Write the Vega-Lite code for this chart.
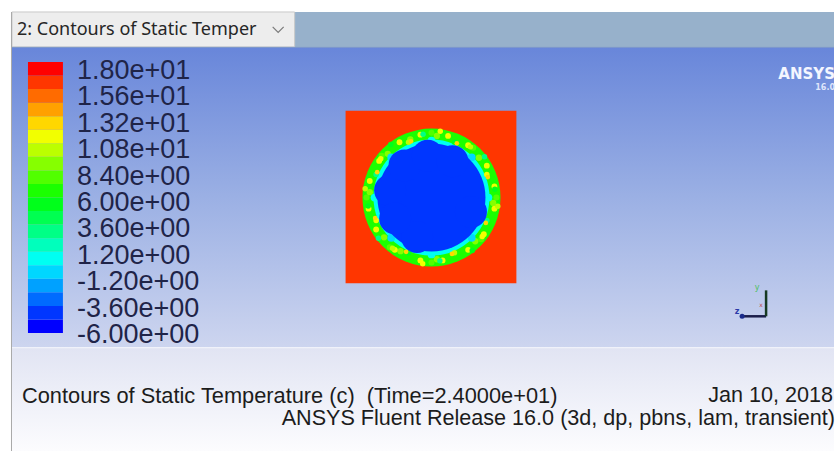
{
  "$schema": "https://vega.github.io/schema/vega-lite/v6.json",
  "width": 835,
  "height": 452,
  "autosize": {"type": "fit", "contains": "padding"},
  "padding": 0,
  "background": "#ffffff",
  "config": {"view": {"stroke": null}},
  "datasets": {
    "panels": [
      {"part": "strip", "x": 12, "x2": 835, "y": 12, "y2": 47},
      {"part": "tab", "x": 12, "x2": 295, "y": 12, "y2": 47},
      {"part": "view", "x": 12, "x2": 835, "y": 47, "y2": 348},
      {"part": "footer", "x": 12, "x2": 835, "y": 348, "y2": 452}
    ],
    "frame": [{"x": 11.5, "y": 12, "y2": 452}],
    "seps": [{"x": 12, "x2": 835, "y": 47.5}, {"x": 12, "x2": 835, "y": 348.5}],
    "chev": [{"x": 273, "y": 27}, {"x": 278.5, "y": 32.5}, {"x": 284, "y": 27}],
    "domainbox": [{"x": 346, "x2": 517, "y": 111, "y2": 284, "T": 16.2}],
    "disc": [{"x": 432, "y": 198, "T": 6.6}],
    "rim": [{"x": 432, "y": 198, "T": 0.6}],
    "core": [{"x": 432, "y": 198, "T": -4.2}],
    "spots": [
      {"g": "yel", "x": 495.0, "y": 209.1, "T": 11.4},
      {"g": "yel", "x": 484.4, "y": 234.7, "T": 11.4},
      {"g": "yel", "x": 468.7, "y": 250.4, "T": 11.4},
      {"g": "yel", "x": 443.1, "y": 261.0, "T": 11.4},
      {"g": "yel", "x": 420.9, "y": 261.0, "T": 11.4},
      {"g": "yel", "x": 395.3, "y": 250.4, "T": 11.4},
      {"g": "yel", "x": 376.6, "y": 230.0, "T": 11.4},
      {"g": "yel", "x": 369.0, "y": 209.1, "T": 11.4},
      {"g": "yel", "x": 370.2, "y": 181.4, "T": 11.4},
      {"g": "yel", "x": 379.6, "y": 161.3, "T": 11.4},
      {"g": "yel", "x": 400.0, "y": 142.6, "T": 11.4},
      {"g": "yel", "x": 420.9, "y": 135.0, "T": 11.4},
      {"g": "yel", "x": 448.6, "y": 136.2, "T": 11.4},
      {"g": "yel", "x": 468.7, "y": 145.6, "T": 11.4},
      {"g": "yel", "x": 487.4, "y": 166.0, "T": 11.4},
      {"g": "yel", "x": 495.0, "y": 186.9, "T": 11.4},
      {"g": "org", "x": 486.4, "y": 223.4, "T": 12.6},
      {"g": "org", "x": 452.5, "y": 254.4, "T": 12.6},
      {"g": "org", "x": 406.6, "y": 252.4, "T": 12.6},
      {"g": "org", "x": 375.6, "y": 218.5, "T": 12.6},
      {"g": "org", "x": 377.6, "y": 172.6, "T": 12.6},
      {"g": "org", "x": 411.5, "y": 141.6, "T": 12.6},
      {"g": "org", "x": 457.4, "y": 143.6, "T": 12.6},
      {"g": "org", "x": 488.4, "y": 177.5, "T": 12.6},
      {"g": "yg", "x": 493.8, "y": 203.4, "T": 9.0},
      {"g": "yg", "x": 475.8, "y": 241.8, "T": 9.0},
      {"g": "yg", "x": 437.4, "y": 259.8, "T": 9.0},
      {"g": "yg", "x": 401.0, "y": 251.7, "T": 9.0},
      {"g": "yg", "x": 384.5, "y": 237.9, "T": 9.0},
      {"g": "yg", "x": 370.2, "y": 192.6, "T": 9.0},
      {"g": "yg", "x": 388.2, "y": 154.2, "T": 9.0},
      {"g": "yg", "x": 410.8, "y": 139.7, "T": 9.0},
      {"g": "yg", "x": 437.4, "y": 136.2, "T": 9.0},
      {"g": "yg", "x": 479.5, "y": 158.1, "T": 9.0},
      {"g": "gy", "x": 497.0, "y": 198.0, "T": 7.8},
      {"g": "gy", "x": 481.8, "y": 239.8, "T": 7.8},
      {"g": "gy", "x": 432.0, "y": 263.0, "T": 7.8},
      {"g": "gy", "x": 390.2, "y": 247.8, "T": 7.8},
      {"g": "gy", "x": 367.0, "y": 198.0, "T": 7.8},
      {"g": "gy", "x": 382.2, "y": 156.2, "T": 7.8},
      {"g": "gy", "x": 432.0, "y": 133.0, "T": 7.8},
      {"g": "gy", "x": 473.8, "y": 148.2, "T": 7.8},
      {"g": "mix", "x": 498.4, "y": 206.8, "T": 10.2},
      {"g": "mix", "x": 487.4, "y": 221.0, "T": 3.0},
      {"g": "mix", "x": 482.8, "y": 237.0, "T": 11.4},
      {"g": "mix", "x": 472.8, "y": 251.1, "T": 5.4},
      {"g": "mix", "x": 455.0, "y": 253.4, "T": 10.2},
      {"g": "mix", "x": 440.4, "y": 261.4, "T": 3.0},
      {"g": "mix", "x": 423.2, "y": 264.4, "T": 11.4},
      {"g": "mix", "x": 409.0, "y": 253.4, "T": 5.4},
      {"g": "mix", "x": 393.0, "y": 248.8, "T": 10.2},
      {"g": "mix", "x": 378.9, "y": 238.8, "T": 3.0},
      {"g": "mix", "x": 376.6, "y": 221.0, "T": 11.4},
      {"g": "mix", "x": 368.6, "y": 206.4, "T": 5.4},
      {"g": "mix", "x": 365.6, "y": 189.2, "T": 10.2},
      {"g": "mix", "x": 376.6, "y": 175.0, "T": 3.0},
      {"g": "mix", "x": 381.2, "y": 159.0, "T": 11.4},
      {"g": "mix", "x": 391.2, "y": 144.9, "T": 5.4},
      {"g": "mix", "x": 409.0, "y": 142.6, "T": 10.2},
      {"g": "mix", "x": 423.6, "y": 134.6, "T": 3.0},
      {"g": "mix", "x": 440.8, "y": 131.6, "T": 11.4},
      {"g": "mix", "x": 455.0, "y": 142.6, "T": 5.4},
      {"g": "mix", "x": 471.0, "y": 147.2, "T": 10.2},
      {"g": "mix", "x": 485.1, "y": 157.2, "T": 3.0},
      {"g": "mix", "x": 487.4, "y": 175.0, "T": 11.4},
      {"g": "mix", "x": 495.4, "y": 189.6, "T": 5.4},
      {"g": "cy", "x": 489.0, "y": 198.0, "T": 0.6},
      {"g": "cy", "x": 472.3, "y": 238.3, "T": -0.6},
      {"g": "cy", "x": 432.0, "y": 255.0, "T": 0.6},
      {"g": "cy", "x": 391.7, "y": 238.3, "T": -0.6},
      {"g": "cy", "x": 375.0, "y": 198.0, "T": 0.6},
      {"g": "cy", "x": 391.7, "y": 157.7, "T": -0.6},
      {"g": "cy", "x": 432.0, "y": 141.0, "T": 0.6},
      {"g": "cy", "x": 472.3, "y": 157.7, "T": -0.6}
    ],
    "bulges": [
      {"x": 390.6, "y": 190.7, "T": -4.2},
      {"x": 405.0, "y": 165.8, "T": -4.2},
      {"x": 428.3, "y": 156.2, "T": -4.2},
      {"x": 453.0, "y": 161.6, "T": -4.2},
      {"x": 471.5, "y": 212.4, "T": -4.2},
      {"x": 417.6, "y": 237.5, "T": -4.2},
      {"x": 395.6, "y": 219.0, "T": -4.2}
    ],
    "triad": [
      {"ax": "z", "x": 743, "y": 317, "x2": 767, "y2": 317},
      {"ax": "y", "x": 767, "y": 317, "x2": 767, "y2": 291}
    ],
    "triadlabels": [
      {"ax": "z", "x": 738, "y": 313, "t": "z"},
      {"ax": "y", "x": 758, "y": 289, "t": "y"},
      {"ax": "x", "x": 762, "y": 306, "t": "x"}
    ],
    "tabtext": [{"x": 17, "y": 30, "t": "2: Contours of Static Temper"}],
    "footleft": [{"x": 22, "y": 397, "t": "Contours of Static Temperature (c) \u00a0(Time=2.4000e+01)"}],
    "footright": [
      {"x": 834, "y": 397, "t": "Jan 10, 2018"},
      {"x": 836, "y": 420, "t": "ANSYS Fluent Release 16.0 (3d, dp, pbns, lam, transient)"}
    ],
    "logo": [{"x": 836, "y": 74, "t": "ANSYS"}],
    "logover": [{"x": 836, "y": 88, "t": "16.0"}],
    "bands": [
      {"lo": -6, "hi": -4.8, "T": -5.4},
      {"lo": -4.8, "hi": -3.6, "T": -4.2},
      {"lo": -3.6, "hi": -2.4, "T": -3.0},
      {"lo": -2.4, "hi": -1.2, "T": -1.8},
      {"lo": -1.2, "hi": 0, "T": -0.6},
      {"lo": 0, "hi": 1.2, "T": 0.6},
      {"lo": 1.2, "hi": 2.4, "T": 1.8},
      {"lo": 2.4, "hi": 3.6, "T": 3.0},
      {"lo": 3.6, "hi": 4.8, "T": 4.2},
      {"lo": 4.8, "hi": 6, "T": 5.4},
      {"lo": 6, "hi": 7.2, "T": 6.6},
      {"lo": 7.2, "hi": 8.4, "T": 7.8},
      {"lo": 8.4, "hi": 9.6, "T": 9.0},
      {"lo": 9.6, "hi": 10.8, "T": 10.2},
      {"lo": 10.8, "hi": 12, "T": 11.4},
      {"lo": 12, "hi": 13.2, "T": 12.6},
      {"lo": 13.2, "hi": 14.4, "T": 13.8},
      {"lo": 14.4, "hi": 15.6, "T": 15.0},
      {"lo": 15.6, "hi": 16.8, "T": 16.2},
      {"lo": 16.8, "hi": 18, "T": 17.4}
    ],
    "ticks": [
      {"v": 18, "label": "1.80e+01"},
      {"v": 15.6, "label": "1.56e+01"},
      {"v": 13.2, "label": "1.32e+01"},
      {"v": 10.8, "label": "1.08e+01"},
      {"v": 8.4, "label": "8.40e+00"},
      {"v": 6, "label": "6.00e+00"},
      {"v": 3.6, "label": "3.60e+00"},
      {"v": 1.2, "label": "1.20e+00"},
      {"v": -1.2, "label": "-1.20e+00"},
      {"v": -3.6, "label": "-3.60e+00"},
      {"v": -6, "label": "-6.00e+00"}
    ]
  },
  "layer": [
    {
      "encoding": {
        "x": {"field": "x", "type": "quantitative", "scale": {"domain": [0, 835], "nice": false, "zero": false}, "axis": null},
        "y": {"field": "y", "type": "quantitative", "scale": {"domain": [0, 452], "nice": false, "zero": false, "reverse": true}, "axis": null}
      },
      "layer": [
        {
          "data": {"name": "panels"},
          "transform": [{"filter": "datum.part == 'strip'"}],
          "mark": {"type": "rect", "fill": "#97b1cb"},
          "encoding": {"x2": {"field": "x2"}, "y2": {"field": "y2"}}
        },
        {
          "data": {"name": "panels"},
          "transform": [{"filter": "datum.part == 'tab'"}],
          "mark": {"type": "rect", "fill": "#ededed", "stroke": "#c9c9c9", "strokeWidth": 1},
          "encoding": {"x2": {"field": "x2"}, "y2": {"field": "y2"}}
        },
        {
          "data": {"name": "panels"},
          "transform": [{"filter": "datum.part == 'view'"}],
          "mark": {"type": "rect", "fill": {"gradient": "linear", "x1": 0, "y1": 0, "x2": 0, "y2": 1, "stops": [{"offset": 0, "color": "#6886da"}, {"offset": 0.5, "color": "#9bb0e4"}, {"offset": 1, "color": "#cdd5ef"}]}},
          "encoding": {"x2": {"field": "x2"}, "y2": {"field": "y2"}}
        },
        {
          "data": {"name": "panels"},
          "transform": [{"filter": "datum.part == 'footer'"}],
          "mark": {"type": "rect", "fill": {"gradient": "linear", "x1": 0, "y1": 0, "x2": 0, "y2": 1, "stops": [{"offset": 0, "color": "#e1e4f3"}, {"offset": 1, "color": "#fcfcfe"}]}},
          "encoding": {"x2": {"field": "x2"}, "y2": {"field": "y2"}}
        },
        {
          "data": {"name": "seps"},
          "mark": {"type": "rule", "color": "#f4f5fb", "strokeWidth": 1},
          "transform": [{"filter": "datum.y > 100"}],
          "encoding": {"x2": {"field": "x2"}}
        },
        {
          "data": {"name": "seps"},
          "mark": {"type": "rule", "color": "#7f9acb", "strokeWidth": 1},
          "transform": [{"filter": "datum.y < 100"}],
          "encoding": {"x2": {"field": "x2"}}
        },
        {
          "data": {"name": "frame"},
          "mark": {"type": "rule", "color": "#a9a9a9", "strokeWidth": 1},
          "encoding": {"y2": {"field": "y2"}}
        },
        {
          "data": {"name": "chev"},
          "mark": {"type": "line", "color": "#7a7a7a", "strokeWidth": 1.2},
          "encoding": {}
        },
        {
          "data": {"name": "tabtext"},
          "mark": {"type": "text", "align": "left", "baseline": "middle", "font": "Noto Sans", "fontSize": 18, "color": "#262626"},
          "encoding": {"text": {"field": "t"}}
        },
        {
          "data": {"name": "domainbox"},
          "mark": {"type": "rect"},
          "encoding": {
            "x2": {"field": "x2"}, "y2": {"field": "y2"},
            "color": {"field": "T", "type": "quantitative", "legend": null,
              "scale": {"type": "threshold", "domain": [-4.8, -3.6, -2.4, -1.2, 0, 1.2, 2.4, 3.6, 4.8, 6, 7.2, 8.4, 9.6, 10.8, 12, 13.2, 14.4, 15.6, 16.8],
                "range": ["#0000ff", "#0036ff", "#006bff", "#00a1ff", "#00d7ff", "#00fff2", "#00ffbc", "#00ff86", "#00ff51", "#00ff1b", "#1bff00", "#51ff00", "#86ff00", "#bcff00", "#f2ff00", "#ffd700", "#ffa100", "#ff6b00", "#ff3600", "#ff0000"]}}
          }
        },
        {
          "data": {"name": "disc"},
          "mark": {"type": "point", "shape": "circle", "filled": true, "opacity": 1, "size": 19044},
          "encoding": {"color": {"field": "T", "type": "quantitative", "legend": null,
              "scale": {"type": "threshold", "domain": [-4.8, -3.6, -2.4, -1.2, 0, 1.2, 2.4, 3.6, 4.8, 6, 7.2, 8.4, 9.6, 10.8, 12, 13.2, 14.4, 15.6, 16.8],
                "range": ["#0000ff", "#0036ff", "#006bff", "#00a1ff", "#00d7ff", "#00fff2", "#00ffbc", "#00ff86", "#00ff51", "#00ff1b", "#1bff00", "#51ff00", "#86ff00", "#bcff00", "#f2ff00", "#ffd700", "#ffa100", "#ff6b00", "#ff3600", "#ff0000"]}}}
        },
        {
          "data": {"name": "rim"},
          "mark": {"type": "point", "shape": "circle", "filled": true, "opacity": 1, "size": 13456},
          "encoding": {"color": {"field": "T", "type": "quantitative", "legend": null,
              "scale": {"type": "threshold", "domain": [-4.8, -3.6, -2.4, -1.2, 0, 1.2, 2.4, 3.6, 4.8, 6, 7.2, 8.4, 9.6, 10.8, 12, 13.2, 14.4, 15.6, 16.8],
                "range": ["#0000ff", "#0036ff", "#006bff", "#00a1ff", "#00d7ff", "#00fff2", "#00ffbc", "#00ff86", "#00ff51", "#00ff1b", "#1bff00", "#51ff00", "#86ff00", "#bcff00", "#f2ff00", "#ffd700", "#ffa100", "#ff6b00", "#ff3600", "#ff0000"]}}}
        },
        {
          "data": {"name": "spots"},
          "transform": [{"filter": "datum.g == 'gy'"}],
          "mark": {"type": "point", "shape": "circle", "filled": true, "opacity": 1, "size": 36},
          "encoding": {"color": {"field": "T", "type": "quantitative", "legend": null,
              "scale": {"type": "threshold", "domain": [-4.8, -3.6, -2.4, -1.2, 0, 1.2, 2.4, 3.6, 4.8, 6, 7.2, 8.4, 9.6, 10.8, 12, 13.2, 14.4, 15.6, 16.8],
                "range": ["#0000ff", "#0036ff", "#006bff", "#00a1ff", "#00d7ff", "#00fff2", "#00ffbc", "#00ff86", "#00ff51", "#00ff1b", "#1bff00", "#51ff00", "#86ff00", "#bcff00", "#f2ff00", "#ffd700", "#ffa100", "#ff6b00", "#ff3600", "#ff0000"]}}}
        },
        {
          "data": {"name": "spots"},
          "transform": [{"filter": "datum.g == 'yg'"}],
          "mark": {"type": "point", "shape": "circle", "filled": true, "opacity": 1, "size": 40},
          "encoding": {"color": {"field": "T", "type": "quantitative", "legend": null,
              "scale": {"type": "threshold", "domain": [-4.8, -3.6, -2.4, -1.2, 0, 1.2, 2.4, 3.6, 4.8, 6, 7.2, 8.4, 9.6, 10.8, 12, 13.2, 14.4, 15.6, 16.8],
                "range": ["#0000ff", "#0036ff", "#006bff", "#00a1ff", "#00d7ff", "#00fff2", "#00ffbc", "#00ff86", "#00ff51", "#00ff1b", "#1bff00", "#51ff00", "#86ff00", "#bcff00", "#f2ff00", "#ffd700", "#ffa100", "#ff6b00", "#ff3600", "#ff0000"]}}}
        },
        {
          "data": {"name": "spots"},
          "transform": [{"filter": "datum.g == 'yel'"}],
          "mark": {"type": "point", "shape": "circle", "filled": true, "opacity": 1, "size": 34},
          "encoding": {"color": {"field": "T", "type": "quantitative", "legend": null,
              "scale": {"type": "threshold", "domain": [-4.8, -3.6, -2.4, -1.2, 0, 1.2, 2.4, 3.6, 4.8, 6, 7.2, 8.4, 9.6, 10.8, 12, 13.2, 14.4, 15.6, 16.8],
                "range": ["#0000ff", "#0036ff", "#006bff", "#00a1ff", "#00d7ff", "#00fff2", "#00ffbc", "#00ff86", "#00ff51", "#00ff1b", "#1bff00", "#51ff00", "#86ff00", "#bcff00", "#f2ff00", "#ffd700", "#ffa100", "#ff6b00", "#ff3600", "#ff0000"]}}}
        },
        {
          "data": {"name": "spots"},
          "transform": [{"filter": "datum.g == 'mix'"}],
          "mark": {"type": "point", "shape": "circle", "filled": true, "opacity": 1, "size": 30},
          "encoding": {"color": {"field": "T", "type": "quantitative", "legend": null,
              "scale": {"type": "threshold", "domain": [-4.8, -3.6, -2.4, -1.2, 0, 1.2, 2.4, 3.6, 4.8, 6, 7.2, 8.4, 9.6, 10.8, 12, 13.2, 14.4, 15.6, 16.8],
                "range": ["#0000ff", "#0036ff", "#006bff", "#00a1ff", "#00d7ff", "#00fff2", "#00ffbc", "#00ff86", "#00ff51", "#00ff1b", "#1bff00", "#51ff00", "#86ff00", "#bcff00", "#f2ff00", "#ffd700", "#ffa100", "#ff6b00", "#ff3600", "#ff0000"]}}}
        },
        {
          "data": {"name": "spots"},
          "transform": [{"filter": "datum.g == 'org'"}],
          "mark": {"type": "point", "shape": "circle", "filled": true, "opacity": 1, "size": 22},
          "encoding": {"color": {"field": "T", "type": "quantitative", "legend": null,
              "scale": {"type": "threshold", "domain": [-4.8, -3.6, -2.4, -1.2, 0, 1.2, 2.4, 3.6, 4.8, 6, 7.2, 8.4, 9.6, 10.8, 12, 13.2, 14.4, 15.6, 16.8],
                "range": ["#0000ff", "#0036ff", "#006bff", "#00a1ff", "#00d7ff", "#00fff2", "#00ffbc", "#00ff86", "#00ff51", "#00ff1b", "#1bff00", "#51ff00", "#86ff00", "#bcff00", "#f2ff00", "#ffd700", "#ffa100", "#ff6b00", "#ff3600", "#ff0000"]}}}
        },
        {
          "data": {"name": "spots"},
          "transform": [{"filter": "datum.g == 'cy'"}],
          "mark": {"type": "point", "shape": "circle", "filled": true, "opacity": 1, "size": 60},
          "encoding": {"color": {"field": "T", "type": "quantitative", "legend": null,
              "scale": {"type": "threshold", "domain": [-4.8, -3.6, -2.4, -1.2, 0, 1.2, 2.4, 3.6, 4.8, 6, 7.2, 8.4, 9.6, 10.8, 12, 13.2, 14.4, 15.6, 16.8],
                "range": ["#0000ff", "#0036ff", "#006bff", "#00a1ff", "#00d7ff", "#00fff2", "#00ffbc", "#00ff86", "#00ff51", "#00ff1b", "#1bff00", "#51ff00", "#86ff00", "#bcff00", "#f2ff00", "#ffd700", "#ffa100", "#ff6b00", "#ff3600", "#ff0000"]}}}
        },
        {
          "data": {"name": "core"},
          "mark": {"type": "point", "shape": "circle", "filled": true, "opacity": 1, "size": 11664},
          "encoding": {"color": {"field": "T", "type": "quantitative", "legend": null,
              "scale": {"type": "threshold", "domain": [-4.8, -3.6, -2.4, -1.2, 0, 1.2, 2.4, 3.6, 4.8, 6, 7.2, 8.4, 9.6, 10.8, 12, 13.2, 14.4, 15.6, 16.8],
                "range": ["#0000ff", "#0036ff", "#006bff", "#00a1ff", "#00d7ff", "#00fff2", "#00ffbc", "#00ff86", "#00ff51", "#00ff1b", "#1bff00", "#51ff00", "#86ff00", "#bcff00", "#f2ff00", "#ffd700", "#ffa100", "#ff6b00", "#ff3600", "#ff0000"]}}}
        },
        {
          "data": {"name": "bulges"},
          "mark": {"type": "point", "shape": "circle", "filled": true, "opacity": 1, "size": 1024},
          "encoding": {"color": {"field": "T", "type": "quantitative", "legend": null,
              "scale": {"type": "threshold", "domain": [-4.8, -3.6, -2.4, -1.2, 0, 1.2, 2.4, 3.6, 4.8, 6, 7.2, 8.4, 9.6, 10.8, 12, 13.2, 14.4, 15.6, 16.8],
                "range": ["#0000ff", "#0036ff", "#006bff", "#00a1ff", "#00d7ff", "#00fff2", "#00ffbc", "#00ff86", "#00ff51", "#00ff1b", "#1bff00", "#51ff00", "#86ff00", "#bcff00", "#f2ff00", "#ffd700", "#ffa100", "#ff6b00", "#ff3600", "#ff0000"]}}}
        },
        {
          "data": {"name": "triad"},
          "transform": [{"filter": "datum.ax == 'z'"}],
          "mark": {"type": "rule", "color": "#1b1d4a", "strokeWidth": 2.5},
          "encoding": {"x2": {"field": "x2"}, "y2": {"field": "y2"}}
        },
        {
          "data": {"name": "triad"},
          "transform": [{"filter": "datum.ax == 'y'"}],
          "mark": {"type": "rule", "color": "#173a22", "strokeWidth": 2.5},
          "encoding": {"x2": {"field": "x2"}, "y2": {"field": "y2"}}
        },
        {
          "data": {"name": "triad"},
          "transform": [{"filter": "datum.ax == 'z'"}],
          "mark": {"type": "point", "shape": "circle", "filled": true, "opacity": 1, "size": 25, "color": "#1a2a8a"},
          "encoding": {}
        },
        {
          "data": {"name": "triadlabels"},
          "transform": [{"filter": "datum.ax == 'z'"}],
          "mark": {"type": "text", "font": "DejaVu Sans", "fontSize": 8, "fontWeight": "bold", "color": "#2a3aa8", "baseline": "middle"},
          "encoding": {"text": {"field": "t"}}
        },
        {
          "data": {"name": "triadlabels"},
          "transform": [{"filter": "datum.ax == 'y'"}],
          "mark": {"type": "text", "font": "DejaVu Sans", "fontSize": 8, "color": "#4cc060", "baseline": "middle"},
          "encoding": {"text": {"field": "t"}}
        },
        {
          "data": {"name": "triadlabels"},
          "transform": [{"filter": "datum.ax == 'x'"}],
          "mark": {"type": "text", "font": "DejaVu Sans", "fontSize": 6, "color": "#c04848", "baseline": "middle"},
          "encoding": {"text": {"field": "t"}}
        },
        {
          "data": {"name": "logo"},
          "mark": {"type": "text", "align": "right", "baseline": "middle", "font": "DejaVu Sans", "fontSize": 15, "fontWeight": "bold", "color": "#f4f6ff"},
          "encoding": {"text": {"field": "t"}}
        },
        {
          "data": {"name": "logover"},
          "mark": {"type": "text", "align": "right", "baseline": "middle", "font": "DejaVu Sans", "fontSize": 8, "fontWeight": "bold", "color": "#dfe5fb"},
          "encoding": {"text": {"field": "t"}}
        },
        {
          "data": {"name": "footleft"},
          "mark": {"type": "text", "align": "left", "baseline": "middle", "font": "Liberation Sans", "fontSize": 21.8, "color": "#1c1c1c"},
          "encoding": {"text": {"field": "t"}}
        },
        {
          "data": {"name": "footright"},
          "mark": {"type": "text", "align": "right", "baseline": "middle", "font": "Liberation Sans", "fontSize": 21.6, "color": "#1c1c1c"},
          "encoding": {"text": {"field": "t"}}
        }
      ]
    },
    {
      "layer": [
        {
          "data": {"name": "bands"},
          "mark": {"type": "rect"},
          "encoding": {
            "x": {"datum": 28, "type": "quantitative", "scale": {"domain": [0, 835], "nice": false, "zero": false}, "axis": null},
            "x2": {"datum": 63},
            "y": {"field": "lo", "type": "quantitative", "scale": {"domain": [-6, 18], "range": [333, 62]}, "axis": null},
            "y2": {"field": "hi"},
            "color": {"field": "T", "type": "quantitative", "legend": null,
              "scale": {"type": "threshold", "domain": [-4.8, -3.6, -2.4, -1.2, 0, 1.2, 2.4, 3.6, 4.8, 6, 7.2, 8.4, 9.6, 10.8, 12, 13.2, 14.4, 15.6, 16.8],
                "range": ["#0000ff", "#0036ff", "#006bff", "#00a1ff", "#00d7ff", "#00fff2", "#00ffbc", "#00ff86", "#00ff51", "#00ff1b", "#1bff00", "#51ff00", "#86ff00", "#bcff00", "#f2ff00", "#ffd700", "#ffa100", "#ff6b00", "#ff3600", "#ff0000"]}}
          }
        },
        {
          "data": {"name": "ticks"},
          "mark": {"type": "text", "align": "left", "baseline": "middle", "font": "Liberation Sans", "fontSize": 27, "color": "#1f2448", "dy": 1},
          "encoding": {
            "x": {"datum": 77, "type": "quantitative", "scale": {"domain": [0, 835], "nice": false, "zero": false}, "axis": null},
            "y": {"field": "v", "type": "quantitative", "scale": {"domain": [-6, 18], "range": [334, 70]}, "axis": null},
            "text": {"field": "label"}
          }
        }
      ],
      "resolve": {"scale": {"y": "independent"}}
    }
  ],
  "resolve": {"scale": {"y": "independent"}}
}
